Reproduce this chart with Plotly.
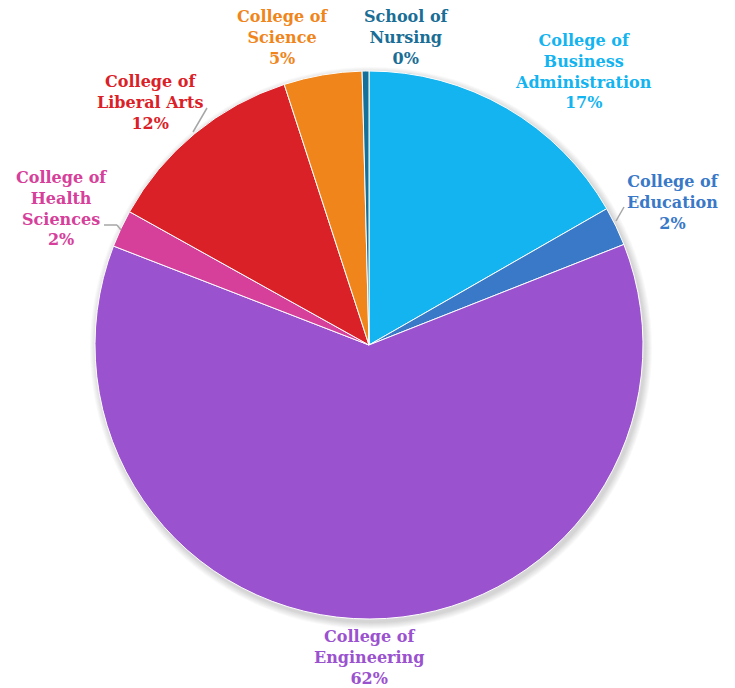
import plotly.graph_objects as go

# ---- data ----
categories = [
    "College of<br>Business<br>Administration",
    "College of<br>Education",
    "College of<br>Engineering",
    "College of<br>Health<br>Sciences",
    "College of<br>Liberal Arts",
    "College of<br>Science",
    "School of<br>Nursing",
]
values = [16.7, 2.3, 61.8, 2.2, 11.9, 4.6, 0.4]

# ---- styles / layout ----
colors = ["#13B4F0", "#3A78C8", "#9B52CF", "#D6409A", "#DB2128", "#F0851B", "#14719A"]
text_colors = ["#13B4F0", "#3A78C8", "#9B52CF", "#D6409A", "#DB2128", "#F0851B", "#1A6E96"]
# label centres in page pixels
label_px = [(583, 72), (673, 202), (369, 657), (61, 208), (150, 102), (282, 38), (406, 38)]
W, H, OFF = 735, 688, 8  # page body has an 8px margin


def px(x, y):
    return (x - OFF) / W, 1 - (y - OFF) / H


CX, CY, R = 369, 345, 274
(cx, cy) = px(CX, CY)
dx, dy = R / W, R / H

total = sum(values)
fig = go.Figure(go.Pie(
    labels=categories,
    values=values,
    sort=False,
    direction="clockwise",
    rotation=0,
    marker=dict(colors=colors, line=dict(color="white", width=1)),
    textinfo="none",
    hoverinfo="label+percent",
    domain=dict(x=[cx - dx, cx + dx], y=[cy - dy, cy + dy]),
    showlegend=False,
))

annotations = []
for lab, v, col, (lx, ly) in zip(categories, values, text_colors, label_px):
    x, y = px(lx, ly)
    annotations.append(dict(
        x=x, y=y, xref="paper", yref="paper", xanchor="center", yanchor="middle",
        text=f"{lab}<br>{round(100 * v / total):d}%", showarrow=False, align="center",
        font=dict(family="DejaVu Serif", size=16, color=col, weight="bold"),
    ))

shapes = []
# soft shadow
for k in range(1, 8):
    x0, y0 = px(CX + 2 - R - k, CY + 3 - R - k)
    x1, y1 = px(CX + 2 + R + k, CY + 3 + R + k)
    shapes.append(dict(type="circle", xref="paper", yref="paper", x0=x0, y0=y0, x1=x1, y1=y1,
                       fillcolor="rgba(0,0,0,0.025)", line=dict(width=0), layer="below"))
# leader lines
leaders = [
    [(193, 132), (207, 108)],
    [(616, 221), (624, 207)],
    [(121, 230), (117, 225), (104, 225)],
]
for pts in leaders:
    for a, b in zip(pts[:-1], pts[1:]):
        x0, y0 = px(*a)
        x1, y1 = px(*b)
        shapes.append(dict(type="line", xref="paper", yref="paper", x0=x0, y0=y0, x1=x1, y1=y1,
                           line=dict(color="#A6A6A6", width=1.5)))

fig.update_layout(
    width=W, height=H,
    margin=dict(l=0, r=0, t=0, b=0),
    paper_bgcolor="white",
    plot_bgcolor="white",
    annotations=annotations,
    shapes=shapes,
)
fig.write_html("out.html")
